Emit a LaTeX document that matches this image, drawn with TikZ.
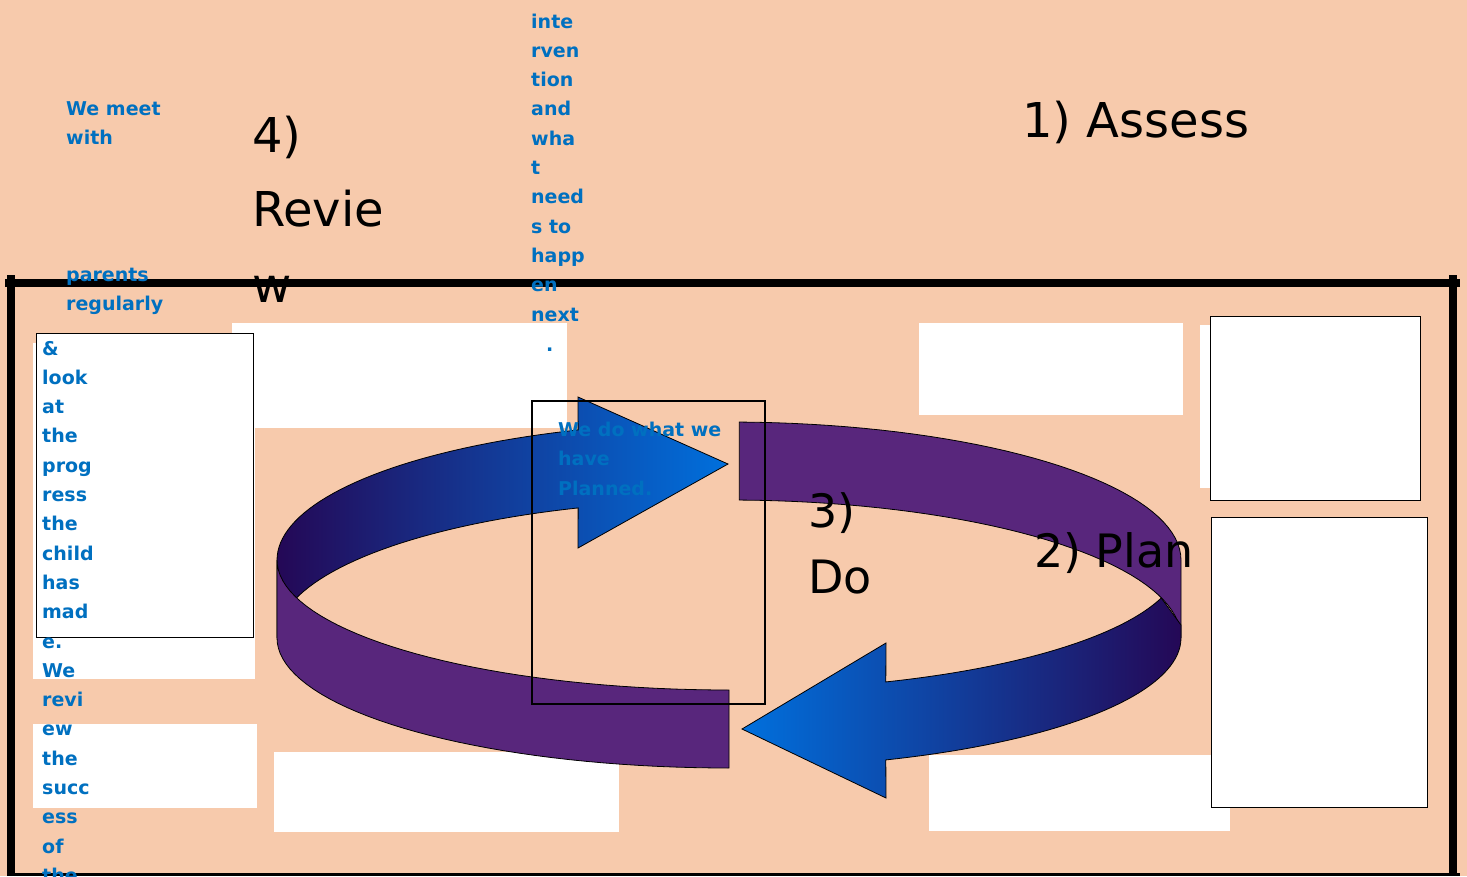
\documentclass[tikz,border=0pt]{standalone}
\usepackage{fontspec}
\setmainfont{DejaVu Sans}
\usepackage{tikz}
\definecolor{peach}{HTML}{F7CAAC}
\definecolor{noteblue}{HTML}{0070C0}
\definecolor{ringpurple}{HTML}{58267C}
\definecolor{ringdark}{HTML}{240856}
\definecolor{ringblue}{HTML}{0070DD}

\begin{document}
\begin{tikzpicture}[x=1pt,y=-1pt,
    every node/.style={inner sep=0pt, anchor=base west},
    note/.style={text=noteblue, font=\bfseries\fontsize{19}{21}\selectfont},
    stage/.style={font=\fontsize{48}{50}\selectfont},
    smallstage/.style={font=\fontsize{46}{48}\selectfont},
    frame/.style={line width=7.5pt},
    blank/.style={fill=white},
    boxed/.style={fill=white, draw=black, line width=1pt},
    ring/.style={draw=black, line width=0.8pt}]
  \useasboundingbox (0,0) rectangle (1467,876);
  \fill[peach] (0,0) rectangle (1467,876);

  % frame
  \draw[frame] (5,283) -- (1460,283);
  \draw[frame] (11,275) -- (11,876);
  \draw[frame] (1453,275) -- (1453,876);
  \draw[line width=3pt] (8,874.5) -- (1460,874.5);

  % white patches
  \fill[blank] (33,343) rectangle (255,679);
  \fill[blank] (232,323) rectangle (567,428);
  \fill[blank] (33,724) rectangle (257,808);
  \fill[blank] (274,752) rectangle (619,832);
  \fill[blank] (919,323) rectangle (1183,415);
  \fill[blank] (1200,325) rectangle (1210,488);
  \fill[blank] (929,755) rectangle (1230,831);
  \draw[boxed] (36,333) rectangle (253,637);
  \draw[boxed] (1210,316) rectangle (1420,500);
  \draw[boxed] (1211,517) rectangle (1427,807);

  % ring arrows
  \draw[ring, left color=ringdark, right color=ringblue]
    plot[domain=180:109.5, samples=40] ({729+452*cos(\x)},{560-138*sin(\x)})
    -- (578,397) -- (728,464) -- (578,548)
    -- plot[domain=109.5:180, samples=40] ({729+452*cos(\x)},{638-138*sin(\x)})
    -- cycle;
  \draw[ring, fill=ringpurple]
    plot[domain=180:90, samples=40] ({729+452*cos(\x)},{560+130*sin(\x)})
    -- plot[domain=90:180, samples=40] ({729+452*cos(\x)},{638+130*sin(\x)})
    -- cycle;
  \draw[ring, fill=ringpurple]
    plot[domain=88.7:0, samples=40] ({729+452*cos(\x)},{560-138*sin(\x)})
    -- plot[domain=0:88.7, samples=40] ({729+452*cos(\x)},{638-138*sin(\x)})
    -- cycle;
  \draw[ring, left color=ringblue, right color=ringdark]
    (1181,625)
    -- plot[domain=17:69.7, samples=40] ({729+452*cos(\x)},{560+130*sin(\x)})
    -- (886,643) -- (742,729) -- (886,798)
    -- plot[domain=69.7:0, samples=40] ({729+452*cos(\x)},{638+130*sin(\x)})
    -- cycle;

  \draw[line width=2.2pt] (532,401) rectangle (765,704);

  % stage labels
  \node[stage] (assess) at (1022,137) {1) Assess};
  \node[smallstage] (plan) at (1034,567) {2) Plan};
  \node[smallstage] (do1) at (808,527) {3)};
  \node[smallstage] (do2) at (808,593) {Do};
  \node[stage] (rev1) at (252,152) {4)};
  \node[stage] (rev2) at (252,226) {Revie};
  \node[stage] (rev3) at (252,302) {w};

  % notes
  \node[note] (meet1) at (66,115) {We meet};
  \node[note] (meet2) at (66,144.3) {with};
  \node[note] (meet3) at (66,281) {parents};
  \node[note] (meet4) at (66,310.3) {regularly};
  \foreach \w [count=\i from 0] in {\&,look,at,the,prog,ress,the,child,has,mad,e.,We,revi,ew,the,succ,ess,of,the}
    \node[note] (left\i) at (42,{355+29.3*\i}) {\w};
  \foreach \w [count=\i from 0] in {inte,rven,tion,and,wha,t,need,s to,happ,en,next}
    \node[note] (mid\i) at (531,{28+29.3*\i}) {\w};
  \node[note] (middot) at (546,351) {.};
  \node[note] (do3) at (558,436) {We do what we};
  \node[note] (do4) at (558,465.5) {have};
  \node[note] (do5) at (558,495) {Planned.};
\end{tikzpicture}
\end{document}
